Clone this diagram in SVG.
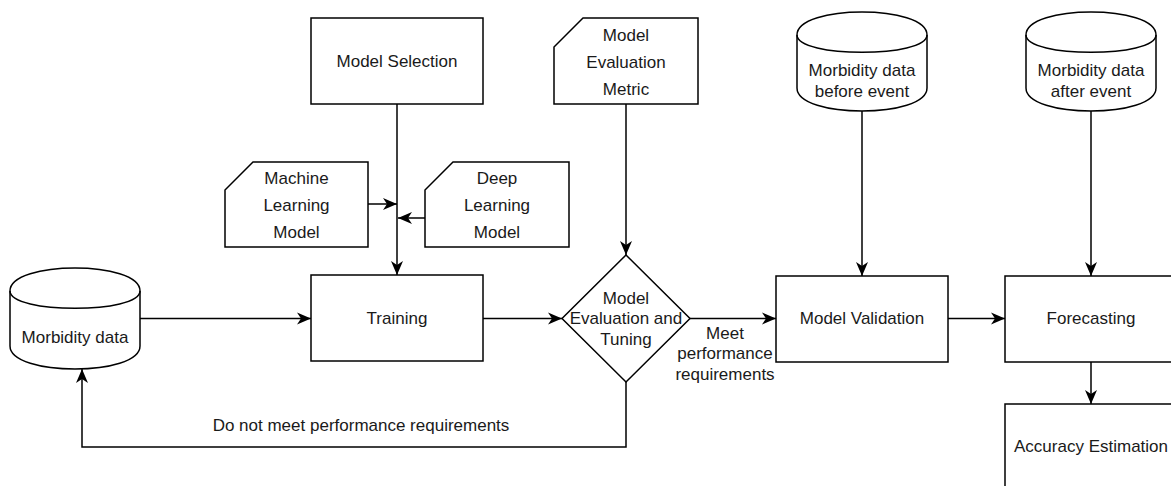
<svg xmlns="http://www.w3.org/2000/svg" width="1171" height="486" viewBox="0 0 1171 486">
  <style>
    .shape { fill: #ffffff; stroke: #000000; stroke-width: 1.5; }
    .edge { fill: none; stroke: #000000; stroke-width: 1.5; }
    .lbl { font-family: "Liberation Sans", Arial, Helvetica, sans-serif; font-size: 17px; fill: #1a1a1a; text-anchor: middle; }
  </style>
  <defs>
    <marker id="arrow" markerUnits="userSpaceOnUse" markerWidth="16" markerHeight="14" refX="14" refY="6" orient="auto" overflow="visible">
      <path d="M0,0 L14,6 L0,12 L4,6 Z" fill="#000000" stroke="none"/>
    </marker>
  </defs>
  <rect width="1171" height="486" fill="#ffffff"/>

  <g id="connectors">
    <path class="edge" d="M397,104 L397,275" marker-end="url(#arrow)"/>
    <path class="edge" d="M368,204 L397,204" marker-end="url(#arrow)"/>
    <path class="edge" d="M425,218 L398,218" marker-end="url(#arrow)"/>
    <path class="edge" d="M140,318.5 L311,318.5" marker-end="url(#arrow)"/>
    <path class="edge" d="M483,318.5 L562,318.5" marker-end="url(#arrow)"/>
    <path class="edge" d="M626,104 L626,255" marker-end="url(#arrow)"/>
    <path class="edge" d="M690,318.5 L776,318.5" marker-end="url(#arrow)"/>
    <path class="edge" d="M626,382 L626,447 L82,447 L82,369" marker-end="url(#arrow)"/>
    <path class="edge" d="M862,111 L862,276" marker-end="url(#arrow)"/>
    <path class="edge" d="M948,318.5 L1005,318.5" marker-end="url(#arrow)"/>
    <path class="edge" d="M1091,111 L1091,276" marker-end="url(#arrow)"/>
    <path class="edge" d="M1091,362 L1091,404" marker-end="url(#arrow)"/>
    <text class="lbl" x="361" y="431">Do not meet performance requirements</text>
    <text class="lbl" x="725" y="339">Meet</text>
    <text class="lbl" x="725" y="359">performance</text>
    <text class="lbl" x="725" y="380">requirements</text>
  </g>

  <g id="model-selection">
    <rect class="shape" x="311" y="18" width="172" height="86"/>
    <text class="lbl" x="397" y="67">Model Selection</text>
  </g>

  <g id="ml-model">
    <path class="shape" d="M253,162 L368,162 L368,247 L225,247 L225,190 Z"/>
    <text class="lbl" x="296.5" y="184">Machine</text>
    <text class="lbl" x="296.5" y="211">Learning</text>
    <text class="lbl" x="296.5" y="238">Model</text>
  </g>

  <g id="dl-model">
    <path class="shape" d="M453,162 L569,162 L569,247 L425,247 L425,190 Z"/>
    <text class="lbl" x="497" y="184">Deep</text>
    <text class="lbl" x="497" y="211">Learning</text>
    <text class="lbl" x="497" y="238">Model</text>
  </g>

  <g id="eval-metric">
    <path class="shape" d="M583,18 L698,18 L698,104 L554,104 L554,47 Z"/>
    <text class="lbl" x="626" y="41">Model</text>
    <text class="lbl" x="626" y="68">Evaluation</text>
    <text class="lbl" x="626" y="95">Metric</text>
  </g>

  <g id="morbidity-data">
    <path class="shape" d="M10,291 C10,260.3 140,260.3 140,291 L140,346 C140,376.7 10,376.7 10,346 Z"/>
    <path class="edge" d="M10,291 C10,314 140,314 140,291"/>
    <text class="lbl" x="75" y="343">Morbidity data</text>
  </g>

  <g id="training">
    <rect class="shape" x="311" y="275" width="172" height="86"/>
    <text class="lbl" x="397" y="324">Training</text>
  </g>

  <g id="eval-tuning">
    <polygon class="shape" points="626,255 690,318.5 626,382 562,318.5"/>
    <text class="lbl" x="626" y="304">Model</text>
    <text class="lbl" x="626" y="324">Evaluation and</text>
    <text class="lbl" x="626" y="345">Tuning</text>
  </g>

  <g id="before-event">
    <path class="shape" d="M797,35 C797,4.3 927,4.3 927,35 L927,88 C927,118.7 797,118.7 797,88 Z"/>
    <path class="edge" d="M797,35 C797,58 927,58 927,35"/>
    <text class="lbl" x="862" y="76">Morbidity data</text>
    <text class="lbl" x="862" y="97">before event</text>
  </g>

  <g id="model-validation">
    <rect class="shape" x="776" y="276" width="172" height="86"/>
    <text class="lbl" x="862" y="324">Model Validation</text>
  </g>

  <g id="after-event">
    <path class="shape" d="M1026,35 C1026,4.3 1156,4.3 1156,35 L1156,88 C1156,118.7 1026,118.7 1026,88 Z"/>
    <path class="edge" d="M1026,35 C1026,58 1156,58 1156,35"/>
    <text class="lbl" x="1091" y="76">Morbidity data</text>
    <text class="lbl" x="1091" y="97">after event</text>
  </g>

  <g id="forecasting">
    <rect class="shape" x="1005" y="276" width="172" height="86"/>
    <text class="lbl" x="1091" y="324">Forecasting</text>
  </g>

  <g id="accuracy-estimation">
    <rect class="shape" x="1005" y="404" width="172" height="86"/>
    <text class="lbl" x="1091" y="452">Accuracy Estimation</text>
  </g>
</svg>
